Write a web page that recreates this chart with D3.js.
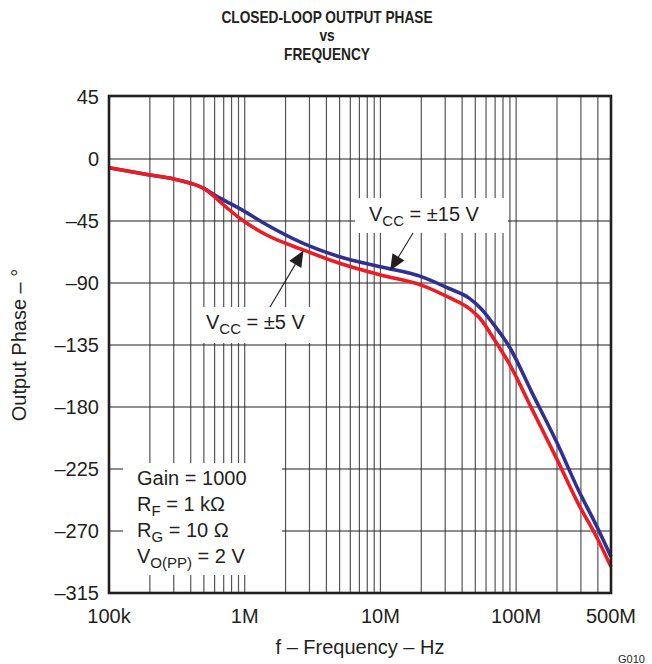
<!DOCTYPE html>
<html><head><meta charset="utf-8">
<script src="https://cdn.jsdelivr.net/npm/d3@7/dist/d3.min.js"></script>
<style>
html,body{margin:0;padding:0;background:#fff;}
svg text{font-family:"Liberation Sans",Arial,Helvetica,sans-serif;fill:#231f20;}
</style></head>
<body>
<svg id="chart" width="652" height="664"></svg>
<script>
// ---- data ----
const freqs = [1e5, 2e5, 3e5, 4e5, 5e5, 6e5, 7e5, 9.2e5, 1.44e6, 2.7e6, 5e6, 1e7, 2e7, 3.2e7, 4.5e7, 5.5e7, 6.7e7, 9e7, 1.3e8, 2e8, 2.9e8, 3.9e8, 5e8];
const phaseVcc15 = [-6.3, -11.6, -14.5, -17.6, -21.3, -26.1, -29.8, -36, -47.5, -61.2, -70.9, -78.2, -85.4, -94, -101, -108.5, -119, -137, -169, -206, -241, -266, -288.6];
const phaseVcc5  = [-6.3, -11.6, -14.5, -17.6, -21.5, -27.4, -33.4, -43, -55, -66, -75.7, -84.2, -91.5, -100.5, -108.4, -116.5, -129, -149.4, -181, -218, -251, -274, -296];
const xTickValues = [1e5, 1e6, 1e7, 1e8, 5e8];
const xTickLabels = ["100k", "1M", "10M", "100M", "500M"];
const yTickValues = [45, 0, -45, -90, -135, -180, -225, -270, -315];
const yTickLabels = ["45", "0", "–45", "–90", "–135", "–180", "–225", "–270", "–315"];
const gridFreqs = [];
for (let d = 1e5; d < 5e8; d *= 10) for (let m = 1; m < 10; m++) { const f = d * m; if (f <= 5e8) gridFreqs.push(f); }

const svg = d3.select("#chart");
const L = 109, R = 611, T = 97, B = 593;
const x = d3.scaleLog().domain([1e5, 5e8]).range([L, R]);
const y = d3.scaleLinear().domain([45, -315]).range([T, B]);

// grid
const g = svg.append("g");
g.selectAll("line.v").data(gridFreqs.filter(f => f > 1e5 && f < 5e8)).enter().append("line")
  .attr("x1", d => x(d)).attr("x2", d => x(d)).attr("y1", T).attr("y2", B)
  .attr("stroke", "#555").attr("stroke-width", 1.2);
g.selectAll("line.h").data(yTickValues.filter(v => v < 45 && v > -315)).enter().append("line")
  .attr("x1", L).attr("x2", R).attr("y1", d => y(d)).attr("y2", d => y(d))
  .attr("stroke", "#231f20").attr("stroke-width", 1.1);

// white annotation boxes (mask grid)
const boxes = [
  {x0: 355, x1: 508, y0: 198, y1: 233},
  {x0: 193, x1: 322, y0: 307, y1: 343},
  {x0: 123, x1: 282, y0: 463, y1: 575}
];
svg.selectAll("rect.box").data(boxes).enter().append("rect")
  .attr("x", d => d.x0).attr("y", d => d.y0).attr("width", d => d.x1 - d.x0).attr("height", d => d.y1 - d.y0)
  .attr("fill", "#fff");

// curves
const line = d3.line().x(d => x(d[0])).y(d => y(d[1])).curve(d3.curveMonotoneX);
svg.append("path").datum(freqs.map((f, i) => [f, phaseVcc15[i]]))
  .attr("d", line).attr("fill", "none").attr("stroke", "#2e3192").attr("stroke-width", 3.6).attr("stroke-linejoin", "round");
svg.append("path").datum(freqs.map((f, i) => [f, phaseVcc5[i]]))
  .attr("d", line).attr("fill", "none").attr("stroke", "#ed1c24").attr("stroke-width", 3.6).attr("stroke-linejoin", "round");

// frame
svg.append("rect").attr("x", L).attr("y", T - 1).attr("width", R - L).attr("height", B - T + 1)
  .attr("fill", "none").attr("stroke", "#231f20").attr("stroke-width", 2.6);

// axes labels
svg.selectAll("text.yt").data(yTickValues).enter().append("text")
  .attr("x", L - 10).attr("y", d => y(d)).attr("dy", "0.35em").attr("text-anchor", "end")
  .attr("font-size", 20).text((d, i) => yTickLabels[i]);
svg.selectAll("text.xt").data(xTickValues).enter().append("text")
  .attr("x", d => x(d)).attr("y", 623).attr("text-anchor", "middle")
  .attr("font-size", 20).text((d, i) => xTickLabels[i]);
svg.append("text").attr("x", (L + R) / 2).attr("y", 654).attr("text-anchor", "middle")
  .attr("font-size", 20).text("f – Frequency – Hz");
svg.append("text").attr("transform", `translate(26,${(T + B) / 2}) rotate(-90)`).attr("text-anchor", "middle")
  .attr("font-size", 20).text("Output Phase – °");

// title (condensed bold)
const title = ["CLOSED-LOOP OUTPUT PHASE", "vs", "FREQUENCY"];
const tg = svg.append("g").attr("transform", "translate(327,0) scale(0.83,1)");
tg.selectAll("text.title").data(title).enter().append("text")
  .attr("x", 0).attr("y", (d, i) => 23 + i * 18.5).attr("text-anchor", "middle")
  .attr("font-size", 16.5).attr("font-weight", "bold").text(d => d);

// annotations with subscripts
function subText(xp, yp, parts) {
  const t = svg.append("text").attr("x", xp).attr("y", yp).attr("font-size", 20);
  parts.forEach(p => {
    const s = t.append("tspan").text(p[0]);
    if (p[1]) s.attr("font-size", 15).attr("dy", 5);
    else if (p[2]) s.attr("dy", -5);
  });
  return t;
}
subText(369, 221, [["V"], ["CC", true], [" = ±15 V", false, true]]);
subText(206, 329, [["V"], ["CC", true], [" = ±5 V", false, true]]);
subText(137, 485, [["Gain = 1000"]]);
subText(137, 511, [["R"], ["F", true], [" = 1 kΩ", false, true]]);
subText(137, 537, [["R"], ["G", true], [" = 10 Ω", false, true]]);
subText(137, 563, [["V"], ["O(PP)", true], ["  = 2 V", false, true]]);

// arrows (tip on the curves)
function arrow(fromX, fromY, tipF, tipP) {
  const tx = x(tipF), ty = y(tipP);
  const ang = Math.atan2(ty - fromY, tx - fromX);
  const len = 16, half = 7;
  const bx = tx - len * Math.cos(ang), by = ty - len * Math.sin(ang);
  svg.append("line").attr("x1", fromX).attr("y1", fromY).attr("x2", bx).attr("y2", by)
    .attr("stroke", "#231f20").attr("stroke-width", 1.1);
  const px = -Math.sin(ang) * half, py = Math.cos(ang) * half;
  svg.append("path").attr("d", `M${tx},${ty}L${bx + px},${by + py}L${bx - px},${by - py}Z`).attr("fill", "#231f20");
}
arrow(413, 233, 1.18e7, -81);
arrow(270, 307, 2.71e6, -66.5);

svg.append("text").attr("x", 618).attr("y", 663).attr("font-size", 11).text("G010");
</script>
</body></html>
